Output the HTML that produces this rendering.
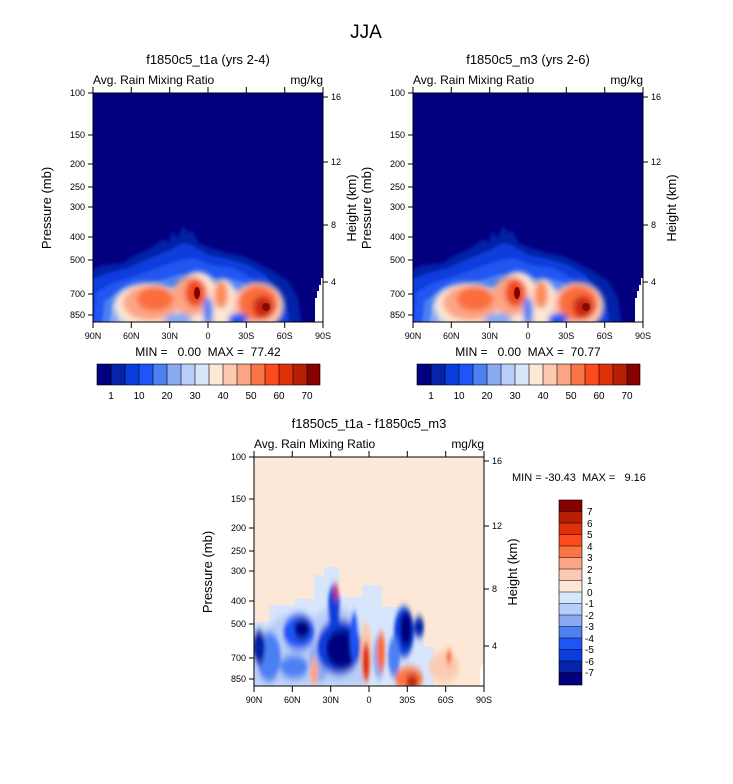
<!DOCTYPE html>
<html><head><meta charset="utf-8"><style>
html,body{margin:0;padding:0;background:#fff;}
svg{display:block;font-family:"Liberation Sans",sans-serif;}
text{white-space:pre;}
</style></head><body>
<svg width="733" height="784" viewBox="0 0 733 784" xmlns="http://www.w3.org/2000/svg">
<defs>
<filter id="b2" x="-20%" y="-20%" width="140%" height="140%"><feGaussianBlur stdDeviation="1.5"/></filter>
<filter id="b4" x="-30%" y="-30%" width="160%" height="160%"><feGaussianBlur stdDeviation="3"/></filter>
<filter id="bv" x="-50%" y="-20%" width="200%" height="140%"><feGaussianBlur stdDeviation="1.5 4"/></filter>
<clipPath id="cp"><rect x="0" y="0" width="230" height="229"/></clipPath>
<g id="field">
 <rect x="0" y="0" width="230" height="229" fill="#03007f"/>
 <g clip-path="url(#cp)">
 <g filter="url(#b2)">
  <path d="M-5,240 L-5,178 L10,172 L30,170 L42,162 L58,155 L70,146 L75,150 L80,138 L85,145 L90,132 L95,140 L100,138 L105,150 L118,155 L135,160 L150,163 L165,170 L180,178 L195,188 L205,205 L210,240 Z" fill="#0524a8"/>
  <path d="M-5,240 L-5,188 L15,180 L35,175 L55,166 L75,158 L90,150 L100,153 L115,162 L135,166 L155,172 L172,182 L186,198 L195,220 L198,240 Z" fill="#0a3ddc"/>
  <path d="M0,240 L3,200 L20,190 L45,182 L65,175 L85,168 L100,165 L118,172 L140,175 L158,185 L172,198 L182,222 L185,240 Z" fill="#2257f2"/>
  <path d="M8,240 L12,208 L30,196 L60,190 L85,182 L105,180 L125,186 L148,188 L163,202 L174,240 Z" fill="#4c80f3"/>
  <path d="M15,240 L20,212 L40,202 L70,196 L95,192 L118,194 L140,196 L158,208 L166,240 Z" fill="#8aabf4"/>
  <path d="M22,240 L28,216 L50,206 L80,200 L105,198 L125,202 L148,204 L158,240 Z" fill="#b7cef7"/>
 </g>
 <g filter="url(#b4)">
  <ellipse cx="55" cy="212" rx="34" ry="22" fill="#fde7d6"/>
  <ellipse cx="105" cy="205" rx="20" ry="26" fill="#fde7d6"/>
  <ellipse cx="130" cy="210" rx="14" ry="24" fill="#fde7d6"/>
  <ellipse cx="165" cy="213" rx="26" ry="24" fill="#fccab0"/>
  <ellipse cx="58" cy="210" rx="28" ry="18" fill="#fca585"/>
  <ellipse cx="62" cy="206" rx="18" ry="12" fill="#fb6d3c"/>
  <ellipse cx="98" cy="203" rx="18" ry="20" fill="#fca585"/>
  <ellipse cx="102" cy="200" rx="10" ry="14" fill="#f04a1a"/>
  <ellipse cx="128" cy="202" rx="7" ry="14" fill="#fb8a5a"/>
  <ellipse cx="165" cy="210" rx="20" ry="18" fill="#fb6d3c"/>
  <ellipse cx="170" cy="214" rx="10" ry="11" fill="#c82807"/>
  <ellipse cx="115" cy="218" rx="5" ry="14" fill="#4c80f3"/>
  <ellipse cx="145" cy="227" rx="10" ry="7" fill="#2257f2"/>
  <ellipse cx="85" cy="227" rx="14" ry="7" fill="#8aabf4"/>
 </g>
 <ellipse cx="104" cy="200" rx="3" ry="6" fill="#800000"/>
 <ellipse cx="173" cy="214" rx="4" ry="4" fill="#8a0a00"/>
 <path d="M222,229 L222,205 L224,205 L224,198 L226,198 L226,192 L228,192 L228,185 L230,185 L230,229 Z" fill="#fff"/>
 </g>
 <rect x="0" y="0" width="230" height="229" fill="none" stroke="#000" stroke-width="1"/>
</g>
<g id="ax" font-size="9" fill="#000">
 <g stroke="#000" stroke-width="1">
  <line x1="-5" y1="0" x2="0" y2="0"/><line x1="-5" y1="42" x2="0" y2="42"/><line x1="-5" y1="71" x2="0" y2="71"/><line x1="-5" y1="94" x2="0" y2="94"/><line x1="-5" y1="114" x2="0" y2="114"/><line x1="-5" y1="144" x2="0" y2="144"/><line x1="-5" y1="167" x2="0" y2="167"/><line x1="-5" y1="201" x2="0" y2="201"/><line x1="-5" y1="222" x2="0" y2="222"/>
  <line x1="230" y1="4" x2="235" y2="4"/><line x1="230" y1="69" x2="235" y2="69"/><line x1="230" y1="132" x2="235" y2="132"/><line x1="230" y1="189" x2="235" y2="189"/>
  <line x1="0" y1="229" x2="0" y2="235"/><line x1="38.3" y1="229" x2="38.3" y2="235"/><line x1="76.7" y1="229" x2="76.7" y2="235"/><line x1="115" y1="229" x2="115" y2="235"/><line x1="153.3" y1="229" x2="153.3" y2="235"/><line x1="191.7" y1="229" x2="191.7" y2="235"/><line x1="230" y1="229" x2="230" y2="235"/>
  <line x1="0" y1="0" x2="0" y2="-6"/><line x1="38.3" y1="0" x2="38.3" y2="-6"/><line x1="76.7" y1="0" x2="76.7" y2="-6"/><line x1="115" y1="0" x2="115" y2="-6"/><line x1="153.3" y1="0" x2="153.3" y2="-6"/><line x1="191.7" y1="0" x2="191.7" y2="-6"/><line x1="230" y1="0" x2="230" y2="-6"/>
 </g>
 <g text-anchor="end"><text x="-8" y="3">100</text><text x="-8" y="45">150</text><text x="-8" y="74">200</text><text x="-8" y="97">250</text><text x="-8" y="117">300</text><text x="-8" y="147">400</text><text x="-8" y="170">500</text><text x="-8" y="204">700</text><text x="-8" y="225">850</text></g>
 <g><text x="238" y="7">16</text><text x="238" y="72">12</text><text x="238" y="135">8</text><text x="238" y="192">4</text></g>
 <g text-anchor="middle"><text x="0" y="246">90N</text><text x="38.3" y="246">60N</text><text x="76.7" y="246">30N</text><text x="115" y="246">0</text><text x="153.3" y="246">30S</text><text x="191.7" y="246">60S</text><text x="230" y="246">90S</text></g>
 <text x="0" y="-9" font-size="12">Avg. Rain Mixing Ratio</text>
 <text x="230" y="-9" font-size="12" text-anchor="end">mg/kg</text>
 <text transform="translate(-42,115) rotate(-90)" font-size="13" text-anchor="middle">Pressure (mb)</text>
 <text transform="translate(263,115) rotate(-90)" font-size="13" text-anchor="middle">Height (km)</text>
</g>
<g id="cb">
 <rect x="0" y="0" width="14" height="21" fill="#03007f"/><rect x="14" y="0" width="14" height="21" fill="#0524a8"/><rect x="28" y="0" width="14" height="21" fill="#0a3ddc"/><rect x="42" y="0" width="14" height="21" fill="#1f55f5"/><rect x="56" y="0" width="14" height="21" fill="#4c80f3"/><rect x="70" y="0" width="14" height="21" fill="#8aabf4"/><rect x="84" y="0" width="14" height="21" fill="#b7cef7"/><rect x="98" y="0" width="14" height="21" fill="#d7e6fb"/><rect x="112" y="0" width="14" height="21" fill="#fde7d6"/><rect x="126" y="0" width="14" height="21" fill="#fccab0"/><rect x="140" y="0" width="14" height="21" fill="#fca585"/><rect x="154" y="0" width="14" height="21" fill="#fb7444"/><rect x="168" y="0" width="14" height="21" fill="#fb4b1f"/><rect x="182" y="0" width="14" height="21" fill="#e03008"/><rect x="196" y="0" width="14" height="21" fill="#b71f05"/><rect x="210" y="0" width="13" height="21" fill="#880000"/>
 <g stroke="#000" stroke-width="0.6"><rect x="0" y="0" width="223" height="21" fill="none"/>
 <line x1="14" y1="0" x2="14" y2="21"/><line x1="28" y1="0" x2="28" y2="21"/><line x1="42" y1="0" x2="42" y2="21"/><line x1="56" y1="0" x2="56" y2="21"/><line x1="70" y1="0" x2="70" y2="21"/><line x1="84" y1="0" x2="84" y2="21"/><line x1="98" y1="0" x2="98" y2="21"/><line x1="112" y1="0" x2="112" y2="21"/><line x1="126" y1="0" x2="126" y2="21"/><line x1="140" y1="0" x2="140" y2="21"/><line x1="154" y1="0" x2="154" y2="21"/><line x1="168" y1="0" x2="168" y2="21"/><line x1="182" y1="0" x2="182" y2="21"/><line x1="196" y1="0" x2="196" y2="21"/><line x1="210" y1="0" x2="210" y2="21"/></g>
 <g font-size="10" text-anchor="middle"><text x="14" y="35">1</text><text x="42" y="35">10</text><text x="70" y="35">20</text><text x="98" y="35">30</text><text x="126" y="35">40</text><text x="154" y="35">50</text><text x="182" y="35">60</text><text x="210" y="35">70</text></g>
</g>
</defs>

<text x="366" y="38" font-size="19" text-anchor="middle">JJA</text>

<text x="208" y="64" font-size="13" text-anchor="middle">f1850c5_t1a (yrs 2-4)</text>
<g transform="translate(93,93)"><use href="#field"/><use href="#ax"/></g>
<text x="208" y="356" font-size="12" text-anchor="middle">MIN =   0.00  MAX =  77.42</text>
<g transform="translate(97,364)"><use href="#cb"/></g>

<text x="528" y="64" font-size="13" text-anchor="middle">f1850c5_m3 (yrs 2-6)</text>
<g transform="translate(413,93)"><use href="#field"/><use href="#ax"/></g>
<text x="528" y="356" font-size="12" text-anchor="middle">MIN =   0.00  MAX =  70.77</text>
<g transform="translate(417,364)"><use href="#cb"/></g>

<text x="369" y="428" font-size="13" text-anchor="middle">f1850c5_t1a - f1850c5_m3</text>
<g transform="translate(254,457)">
 <clipPath id="cp2"><rect x="0" y="0" width="230" height="229"/></clipPath>
 <rect x="0" y="0" width="230" height="229" fill="#fde7d6"/>
 <g clip-path="url(#cp2)">
  <path d="M0,229 L0,165 L15,165 L15,148 L40,148 L40,142 L60,142 L60,118 L70,118 L70,110 L85,110 L85,140 L108,140 L108,128 L128,128 L128,150 L150,150 L150,160 L158,160 L158,175 L170,175 L170,190 L180,190 L180,229 Z" fill="#d7e6fb"/>
  <g filter="url(#bv)">
   <path d="M0,229 L0,170 L12,172 L25,160 L45,155 L60,160 L75,150 L90,150 L105,165 L110,229 Z" fill="#b7cef7"/>
   <ellipse cx="15" cy="200" rx="12" ry="25" fill="#4c80f3"/>
   <ellipse cx="5" cy="190" rx="6" ry="18" fill="#0524a8"/>
   <ellipse cx="45" cy="175" rx="16" ry="18" fill="#1f55f5"/>
   <ellipse cx="48" cy="172" rx="8" ry="10" fill="#03007f"/>
   <ellipse cx="40" cy="210" rx="14" ry="12" fill="#4c80f3"/>
   <ellipse cx="65" cy="205" rx="10" ry="20" fill="#8aabf4"/>
   <ellipse cx="85" cy="190" rx="22" ry="28" fill="#0a3ddc"/>
   <ellipse cx="88" cy="192" rx="16" ry="20" fill="#03007f"/>
   <ellipse cx="80" cy="150" rx="6" ry="22" fill="#0a3ddc"/>
   <ellipse cx="100" cy="180" rx="4" ry="25" fill="#1f55f5"/>
   <ellipse cx="150" cy="175" rx="10" ry="25" fill="#0a3ddc"/>
   <ellipse cx="152" cy="172" rx="6" ry="18" fill="#03007f"/>
   <ellipse cx="165" cy="170" rx="5" ry="10" fill="#0524a8"/>
   <ellipse cx="140" cy="200" rx="6" ry="20" fill="#4c80f3"/>
   <ellipse cx="125" cy="200" rx="6" ry="22" fill="#8aabf4"/>
   <ellipse cx="112" cy="195" rx="6" ry="30" fill="#fccab0"/>
   <ellipse cx="112" cy="205" rx="4" ry="20" fill="#e03008"/>
   <ellipse cx="127" cy="195" rx="4" ry="20" fill="#fb6d3c"/>
   <ellipse cx="155" cy="222" rx="14" ry="12" fill="#fb7444"/>
   <ellipse cx="158" cy="225" rx="6" ry="7" fill="#b71f05"/>
   <ellipse cx="190" cy="210" rx="15" ry="15" fill="#fccab0"/>
   <ellipse cx="60" cy="215" rx="4" ry="14" fill="#fca585"/>
   <ellipse cx="82" cy="135" rx="2" ry="8" fill="#e03008"/>
   <ellipse cx="195" cy="200" rx="3" ry="7" fill="#fb6d3c"/>
  </g>
  <path d="M226,229 L226,212 L230,205 L230,229 Z" fill="#fff"/>
 </g>
 <rect x="0" y="0" width="230" height="229" fill="none" stroke="#000"/>
 <use href="#ax"/>
</g>
<text x="512" y="481" font-size="11">MIN = -30.43  MAX =   9.16</text>

<g transform="translate(559,500)">
 <rect x="0" y="0" width="23" height="12" fill="#880000"/><rect x="0" y="11.5" width="23" height="12" fill="#b71f05"/><rect x="0" y="23" width="23" height="12" fill="#e03008"/><rect x="0" y="34.5" width="23" height="12" fill="#fb4b1f"/><rect x="0" y="46" width="23" height="12" fill="#fb7444"/><rect x="0" y="57.5" width="23" height="12" fill="#fca585"/><rect x="0" y="69" width="23" height="12" fill="#fccab0"/><rect x="0" y="80.5" width="23" height="12" fill="#fde7d6"/><rect x="0" y="92" width="23" height="12" fill="#d7e6fb"/><rect x="0" y="103.5" width="23" height="12" fill="#b7cef7"/><rect x="0" y="115" width="23" height="12" fill="#8aabf4"/><rect x="0" y="126.5" width="23" height="12" fill="#4c80f3"/><rect x="0" y="138" width="23" height="12" fill="#1f55f5"/><rect x="0" y="149.5" width="23" height="12" fill="#0a3ddc"/><rect x="0" y="161" width="23" height="12" fill="#0524a8"/><rect x="0" y="172.5" width="23" height="12.5" fill="#03007f"/>
 <g stroke="#000" stroke-width="0.6"><rect x="0" y="0" width="23" height="185" fill="none"/>
 <line x1="0" y1="11.5" x2="23" y2="11.5"/><line x1="0" y1="23" x2="23" y2="23"/><line x1="0" y1="34.5" x2="23" y2="34.5"/><line x1="0" y1="46" x2="23" y2="46"/><line x1="0" y1="57.5" x2="23" y2="57.5"/><line x1="0" y1="69" x2="23" y2="69"/><line x1="0" y1="80.5" x2="23" y2="80.5"/><line x1="0" y1="92" x2="23" y2="92"/><line x1="0" y1="103.5" x2="23" y2="103.5"/><line x1="0" y1="115" x2="23" y2="115"/><line x1="0" y1="126.5" x2="23" y2="126.5"/><line x1="0" y1="138" x2="23" y2="138"/><line x1="0" y1="149.5" x2="23" y2="149.5"/><line x1="0" y1="161" x2="23" y2="161"/><line x1="0" y1="172.5" x2="23" y2="172.5"/></g>
 <g font-size="10"><text x="28" y="15">7</text><text x="28" y="27">6</text><text x="28" y="38">5</text><text x="28" y="50">4</text><text x="28" y="61">3</text><text x="28" y="73">2</text><text x="28" y="84">1</text><text x="28" y="96">0</text><text x="26" y="107">-1</text><text x="26" y="119">-2</text><text x="26" y="130">-3</text><text x="26" y="142">-4</text><text x="26" y="153">-5</text><text x="26" y="165">-6</text><text x="26" y="176">-7</text></g>
</g>
</svg>
</body></html>
